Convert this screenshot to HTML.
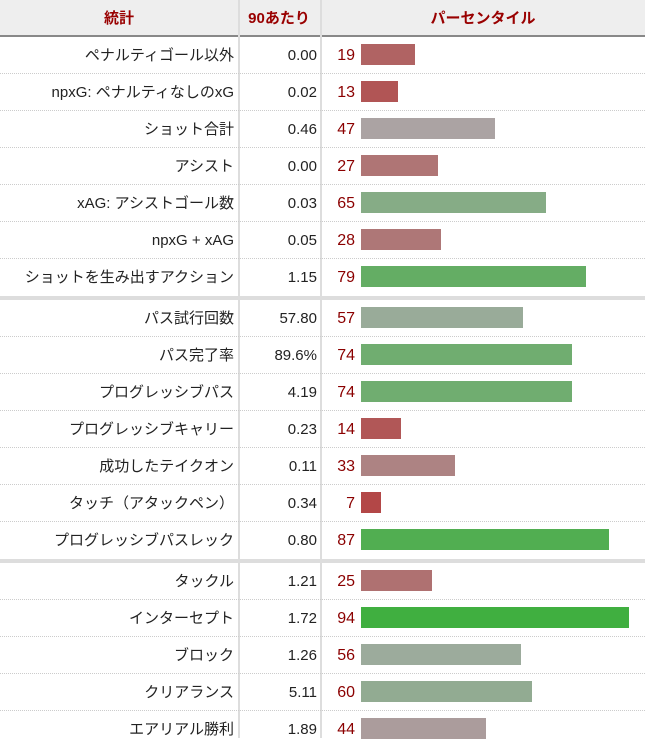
<!DOCTYPE html>
<html><head><meta charset="utf-8">
<style>
body{margin:0;background:#fff;width:645px;height:738px;overflow:hidden;position:relative;font-family:"Liberation Sans","Noto Sans CJK JP",sans-serif;}
#chart{position:absolute;left:0;top:0;width:645px;height:738px;}
.hdr{position:absolute;top:0;height:35px;background:#eee;border-bottom:2px solid #888;width:645px;left:0}
.ht{position:absolute;top:0;height:35px;line-height:37px;text-align:center;font-weight:bold;color:#990000;font-size:15px}
.cell{position:absolute;height:37px;line-height:37px;font-size:15px;color:#222;white-space:nowrap}
.rowline{position:absolute;left:0;width:645px;border-top:1px dotted #ccc}
.sep{position:absolute;left:0;width:645px;height:4px;background:#ddd}
.vline{position:absolute;top:0;width:2px;height:738px;background:#ddd}
.pct{position:absolute;width:34px;text-align:right;left:321px;height:37px;line-height:37px;font-size:16px;color:#8b0000}
.bar{position:absolute;height:21px}
</style></head><body>
<div id="chart">
<div class="hdr"></div>
<div class="vline" style="left:238px"></div>
<div class="vline" style="left:320px"></div>
<div class="ht" style="left:0;width:238px">統計</div>
<div class="ht" style="left:238px;width:82px">90あたり</div>
<div class="ht" style="left:321px;width:324px">パーセンタイル</div>
</div>
<script>
const statNames=["ペナルティゴール以外","npxG: ペナルティなしのxG","ショット合計","アシスト","xAG: アシストゴール数","npxG + xAG","ショットを生み出すアクション","パス試行回数","パス完了率","プログレッシブパス","プログレッシブキャリー","成功したテイクオン","タッチ（アタックペン）","プログレッシブパスレック","タックル","インターセプト","ブロック","クリアランス","エアリアル勝利"];
const per90=["0.00","0.02","0.46","0.00","0.03","0.05","1.15","57.80","89.6%","4.19","0.23","0.11","0.34","0.80","1.21","1.72","1.26","5.11","1.89"];
const percentiles=[19,13,47,27,65,28,79,57,74,74,14,33,7,87,25,94,56,60,44];
const groupBreaks=[7,14];
const chart=document.getElementById('chart');
const X0=361, UNIT=2.85, RH=37;
function color(p){
  let r,g,b;
  if(p<50){const t=p/50;r=180+(170-180)*t;g=55+(170-55)*t;b=g;}
  else{const t=(p-50)/50;r=170+(50-170)*t;g=170+(176-170)*t;b=r;}
  return `rgb(${Math.round(r)},${Math.round(g)},${Math.round(b)})`;
}
function rowTop(i){let y=37+i*RH;groupBreaks.forEach(b=>{if(i>=b)y+=4;});return y;}
groupBreaks.forEach(b=>{
  const s=document.createElement('div');s.className='sep';s.style.top=(rowTop(b)-4)+'px';
  
  
  chart.appendChild(s);
});
statNames.forEach((n,i)=>{
  const y=rowTop(i);
  if(i>0&&!groupBreaks.includes(i)){const l=document.createElement('div');l.className='rowline';l.style.top=(y-1)+'px';
    
    
    chart.appendChild(l);}
  const a=document.createElement('div');a.className='cell';a.style.left='0';a.style.width='234px';a.style.textAlign='right';a.style.top=y+'px';a.textContent=n;
  
  
  chart.appendChild(a);
  const v=document.createElement('div');v.className='cell';v.style.left='238px';v.style.width='79px';v.style.textAlign='right';v.style.top=y+'px';v.textContent=per90[i];
  
  
  chart.appendChild(v);
  const p=document.createElement('div');p.className='pct';p.style.top=y+'px';p.textContent=percentiles[i];
  
  
  chart.appendChild(p);
  const bar=document.createElement('div');bar.className='bar';bar.style.left=X0+'px';bar.style.top=(y+7)+'px';
  bar.style.width=(percentiles[i]*UNIT)+'px';bar.style.background=color(percentiles[i]);
  
  
  chart.appendChild(bar);
});
</script>
</body></html>
